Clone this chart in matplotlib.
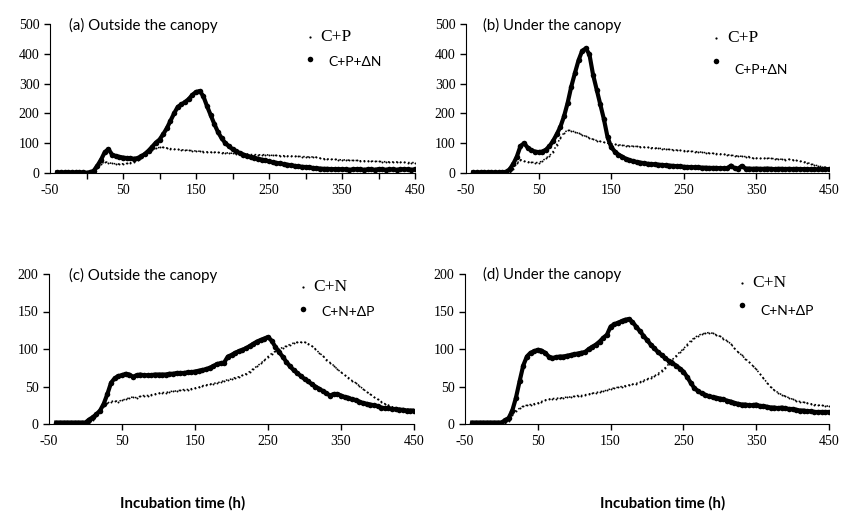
import numpy as np
import matplotlib
matplotlib.use('Agg')
import matplotlib.pyplot as plt
from matplotlib.lines import Line2D

# incubation time grid (h), one reading every 5 h
hours = list(range(-40, 455, 5))

# (a) outside the canopy
a_cp = [1, 1, 1, 1, 1, 1, 1, 1, 1, 1,
        5, 18, 30, 38, 35, 32, 31, 30, 31, 32, 34, 37, 42, 50, 60, 70, 78, 83, 86, 86,
        84, 82, 80, 79, 78, 77, 76, 75, 74, 73, 72, 71, 70, 70, 69, 68, 68, 67, 66, 65,
        64, 64, 63, 62, 62, 61, 61, 62, 60, 59, 59, 58, 58, 57, 57, 56, 56, 55, 55, 54,
        54, 53, 50, 48, 47, 46, 46, 45, 44, 44, 43, 42, 42, 41, 41, 40, 40, 39, 39, 38,
        38, 37, 37, 37, 36, 36, 35, 35, 35]
a_cpn = [2, 2, 2, 2, 2, 2, 2, 2, 1, 2,
         8, 25, 45, 70, 80, 62, 57, 54, 52, 50, 49, 48, 50, 56, 64, 75, 88, 102, 112, 130,
         150, 175, 200, 222, 230, 238, 248, 262, 272, 275, 258, 225, 195, 165, 138, 117, 101, 90, 80, 73,
         67, 62, 58, 54, 51, 48, 45, 42, 39, 36, 34, 32, 30, 28, 26, 24, 22, 21, 20, 19,
         17, 16, 15, 14, 14, 13, 13, 12, 13, 12, 11, 12, 13, 12, 11, 12, 12, 11, 13, 12,
         11, 12, 12, 11, 12, 13, 12, 11, 12]

# (b) under the canopy
b_cp = [1, 1, 1, 1, 1, 1, 1, 1, 1, 1,
        4, 15, 32, 45, 40, 37, 36, 35, 35, 40, 50, 58, 72, 95, 118, 135, 144, 142, 138, 133,
        128, 123, 118, 113, 109, 106, 103, 100, 98, 96, 95, 93, 92, 91, 90, 89, 88, 87, 86, 85,
        84, 83, 82, 80, 79, 78, 77, 76, 75, 74, 73, 72, 71, 70, 68, 67, 66, 65, 64, 63,
        61, 60, 58, 57, 56, 55, 55, 50, 50, 49, 49, 50, 49, 48, 47, 46, 45, 46, 44, 42,
        40, 38, 35, 31, 27, 24, 21, 19, 17]
b_cpn = [2, 2, 2, 2, 2, 2, 2, 2, 2, 4,
         12, 30, 55, 90, 100, 85, 76, 72, 70, 72, 78, 90, 108, 130, 155, 190, 235, 290, 335, 378,
         410, 418, 398, 330, 280, 230, 180, 120, 87, 72, 62, 55, 48, 43, 40, 37, 35, 33, 31, 30,
         29, 28, 27, 26, 25, 24, 23, 22, 21, 20, 20, 19, 19, 18, 18, 17, 17, 17, 16, 16,
         16, 25, 16, 15, 24, 15, 15, 14, 15, 14, 14, 15, 14, 13, 14, 14, 13, 14, 13, 14,
         13, 13, 13, 12, 12, 12, 12, 12, 13]

# (c) outside the canopy
c_cn = [1, 1, 1, 1, 1, 1, 1, 1, 1, 1,
        6, 11, 17, 24, 28, 30, 31, 30, 32, 33, 35, 36, 35, 37, 38, 38, 39, 40, 41, 42,
        42, 43, 44, 44, 45, 46, 46, 47, 48, 49, 51, 52, 53, 54, 55, 56, 58, 59, 60, 62,
        63, 65, 67, 70, 74, 77, 81, 85, 90, 94, 97, 100, 102, 104, 106, 108, 109, 109, 109, 107,
        104, 100, 95, 91, 86, 82, 78, 73, 69, 65, 62, 58, 55, 51, 47, 43, 40, 36, 33, 30,
        27, 25, 23, 22, 21, 20, 20, 19, 19]
c_cnp = [2, 2, 2, 2, 2, 2, 2, 2, 2, 6,
         9, 13, 18, 27, 40, 55, 61, 64, 65, 67, 66, 63, 65, 66, 65, 65, 65, 66, 66, 66,
         66, 67, 67, 68, 68, 68, 69, 69, 70, 71, 72, 73, 75, 77, 80, 81, 82, 90, 92, 95,
         97, 99, 101, 104, 107, 110, 112, 114, 116, 111, 103, 96, 90, 83, 77, 72, 68, 64, 60, 57,
         53, 50, 47, 44, 41, 38, 40, 40, 38, 36, 35, 33, 32, 30, 28, 27, 26, 25, 24, 22,
         21, 21, 20, 20, 19, 19, 18, 18, 18]

# (d) under the canopy
d_cn = [1, 1, 1, 1, 1, 1, 1, 1, 1, 1,
        4, 12, 18, 21, 24, 25, 26, 27, 28, 30, 32, 33, 34, 34, 35, 35, 36, 36, 37, 38,
        38, 39, 40, 41, 42, 43, 44, 45, 47, 48, 49, 50, 51, 52, 53, 54, 56, 58, 60, 62,
        64, 67, 71, 75, 80, 86, 91, 96, 100, 106, 111, 115, 118, 120, 121, 122, 121, 119, 117, 114,
        111, 107, 101, 96, 92, 87, 83, 78, 73, 67, 61, 55, 49, 45, 42, 39, 37, 35, 33, 31,
        30, 29, 28, 27, 26, 25, 25, 24, 24]
d_cnp = [2, 2, 2, 2, 2, 2, 2, 2, 2, 5,
         8, 18, 35, 57, 78, 90, 95, 97, 99, 98, 95, 90, 88, 89, 90, 90, 91, 92, 93, 94,
         95, 96, 100, 103, 106, 110, 115, 119, 130, 133, 135, 137, 139, 140, 136, 130, 124, 118, 112, 106,
         101, 96, 92, 88, 84, 81, 78, 74, 70, 63, 55, 48, 44, 41, 39, 37, 36, 35, 34, 33,
         31, 30, 28, 27, 26, 26, 25, 25, 26, 24, 24, 23, 22, 22, 21, 22, 21, 20, 20, 19,
         18, 18, 17, 17, 16, 16, 16, 16, 16]

for s in (a_cp, a_cpn, b_cp, b_cpn, c_cn, c_cnp, d_cn, d_cnp):
    assert len(s) == len(hours), len(s)

W, H = 841, 511
fig = plt.figure(figsize=(W / 100, H / 100), dpi=100)

def px_box(x0, x1, ytop, ybot):
    return [x0 / W, 1 - ybot / H, (x1 - x0) / W, (ybot - ytop) / H]

serif = 'Liberation Serif'
sans = 'Lato'

panels = [
    (px_box(50, 415, 24, 173), a_cp, a_cpn, 500, 100, [0, 50, 100, 150, 200, 250, 300, 350, 400, 450]),
    (px_box(466, 829, 24, 173), b_cp, b_cpn, 500, 100, [50, 150, 250, 350, 450]),
    (px_box(49, 414, 274, 424), c_cn, c_cnp, 200, 50, [50, 150, 250, 350, 450]),
    (px_box(465, 829, 274, 424), d_cn, d_cnp, 200, 50, [50, 150, 250, 350, 450]),
]

for box, thin, bold, ymax, ystep, xt in panels:
    ax = fig.add_axes(box)
    # dense readings: thick dotted trace for the amended series, fine trace for the control
    ax.plot(hours, bold, '-o', color='black', lw=3.0, ms=4.0, mew=0)
    ax.plot(hours, thin, ':', color='black', lw=1.1)
    ax.plot(hours, thin, 'o', color='black', ms=1.4, mew=0)
    ax.set_xlim(-50, 450)
    ax.set_ylim(0, ymax)
    ax.spines['top'].set_visible(False)
    ax.spines['right'].set_visible(False)
    ax.set_yticks(np.arange(0, ymax + 1, ystep))
    ax.set_xticks(xt)
    ax.set_xticklabels([])
    ax.tick_params(axis='both', direction='out', length=4, width=1, labelsize=10)
    for lab in ax.get_yticklabels():
        lab.set_fontfamily(serif)
    # x labels every 100 starting at -50
    for v in [-50, 50, 150, 250, 350, 450]:
        ax.text(v, -0.075, str(v), transform=ax.get_xaxis_transform(), ha='center', va='top',
                fontsize=10, family=serif)

def ftext(x, y, s, **kw):
    fig.text(x / W, 1 - y / H, s, va='center', **kw)

def fdot(x, y, ms):
    fig.add_artist(Line2D([x / W], [1 - y / H], marker='o', ms=ms, color='black', mew=0,
                          transform=fig.transFigure))

ftext(69, 25, '(a) Outside the canopy', family=sans, fontsize=10.8)
ftext(483, 25, '(b) Under the canopy', family=sans, fontsize=10.8)
ftext(69, 275, '(c) Outside the canopy', family=sans, fontsize=10.8)
ftext(483, 274, '(d) Under the canopy', family=sans, fontsize=10.8)

# legends
for (dx, dy1, tx1, ty1, dy2, tx2, ty2, l1, l2) in [
        (310, 37, 320, 37, 59, 328, 62, 'C+P', 'C+P+\u0394N'),
        (716, 38, 727, 38, 61, 734, 70, 'C+P', 'C+P+\u0394N'),
        (303, 287, 313, 287, 309, 321, 312, 'C+N', 'C+N+\u0394P'),
        (742, 283, 752, 283, 305, 760, 311, 'C+N', 'C+N+\u0394P')]:
    fdot(dx, dy1, 1.6)
    ftext(tx1, ty1, l1, family=serif, fontsize=12.5)
    fdot(dx, dy2, 4)
    ftext(tx2, ty2, l2, family=sans, fontsize=10)

ftext(183, 503, 'Incubation time (h)', family=sans, fontsize=10.8, fontweight='bold', ha='center')
ftext(663, 503, 'Incubation time (h)', family=sans, fontsize=10.8, fontweight='bold', ha='center')

fig.savefig('out.png', dpi=100)
